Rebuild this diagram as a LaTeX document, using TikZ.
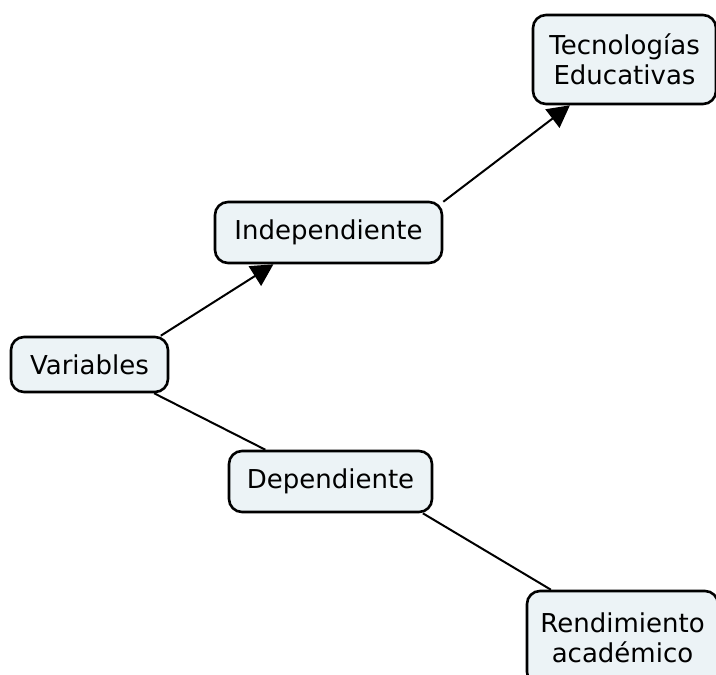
\documentclass[tikz,border=0pt]{standalone}
\usepackage{fontspec}
\setmainfont{DejaVu Sans}
\usetikzlibrary{arrows.meta,backgrounds}
\definecolor{boxfill}{RGB}{236,243,246}

\begin{document}
\begin{tikzpicture}[x=0.5pt,y=-0.5pt,>={Triangle[length=11pt,width=11.5pt]},
  concept/.style={draw,line width=1.3pt,rounded corners=6.5pt,fill=boxfill,
    align=center,inner sep=0pt,font=\fontsize{13pt}{15pt}\selectfont},
  link/.style={line width=1pt}]
\useasboundingbox (0,0) rectangle (716,674);
\clip (0,0) rectangle (716,674);

\node[concept,minimum width=78.5pt,minimum height=27.5pt] (vars) at (89.5,364.5) {Variables};
\node[concept,minimum width=113.5pt,minimum height=30.5pt] (indep) at (328.5,232.5) {Independiente};
\node[concept,minimum width=91.5pt,minimum height=44.5pt] (tec) at (624.5,59.5) {Tecnologías\\Educativas};
\node[concept,minimum width=101.5pt,minimum height=30.5pt] (dep) at (330.5,481.5) {Dependiente};
\node[concept,minimum width=95.5pt,minimum height=47pt] (rend) at (622.5,638) {Rendimiento\\académico};

% links go under the boxes
\begin{scope}[on background layer]
\draw[link,->] (vars.22) -- (indep.210);
\draw[link,->] (indep.15) -- (tec.220);
\draw[link] (vars.-24) -- (dep.154);
\draw[link] (dep.-19) -- (rend.146);
\end{scope}
\end{tikzpicture}
\end{document}
